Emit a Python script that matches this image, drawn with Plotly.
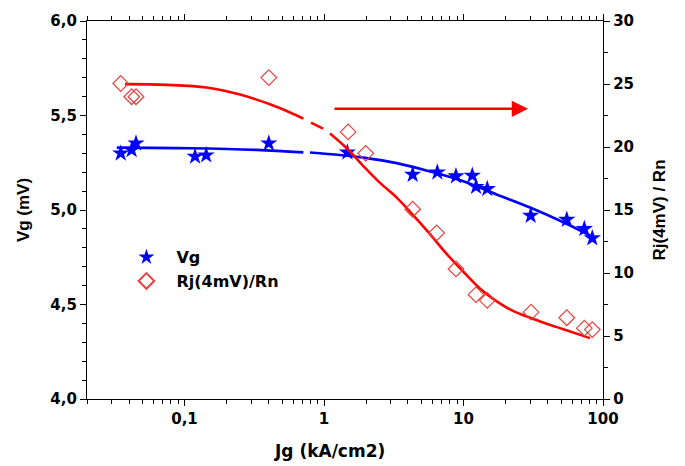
import math
import plotly.graph_objects as go

# Measured data
jg_vg = [0.0349, 0.0418, 0.0449, 0.119, 0.143, 0.402, 1.47, 4.32, 6.49, 8.83, 11.56, 12.3, 14.8, 30.3, 55.0, 73.5, 83.8]
vg = [5.300, 5.318, 5.353, 5.283, 5.290, 5.353, 5.305, 5.187, 5.199, 5.179, 5.182, 5.123, 5.112, 4.970, 4.949, 4.900, 4.851]

jg_rj = [0.0349, 0.0418, 0.0449, 0.402, 1.49, 1.99, 4.32, 6.42, 8.83, 12.3, 14.8, 30.5, 55.0, 73.5, 83.8]
rj = [25.04, 23.99, 23.99, 25.51, 21.20, 19.50, 15.06, 13.18, 10.32, 8.28, 7.83, 6.89, 6.45, 5.62, 5.51]

# Fitted curves (None = gap in the drawn line)
fit_vg_x = [0.0327, 0.1095, 0.329, 0.711, None, 0.794, 1.302, 1.913, 3.32, 5.75, 9.97, 17.3, 30.0, 52.0, 80.7]
fit_vg_y = [5.330, 5.327, 5.318, 5.305, None, 5.304, 5.291, 5.277, 5.248, 5.204, 5.152, 5.082, 5.013, 4.935, 4.865]

fit_rj_x = [0.0374, 0.0745, 0.144, 0.250, 0.410, 0.571, 0.711, None, 0.807, 0.984, None, 1.104, 1.455, 1.913, 2.52, 3.32, 4.37, 5.75, 7.57, 9.97, 13.1, 17.3, 22.8, 30.0, 39.5, 52.0, 80.7]
fit_rj_y = [24.99, 24.93, 24.72, 24.16, 23.39, 22.74, 22.25, None, 21.93, 21.46, None, 21.07, 19.90, 18.49, 17.15, 15.98, 14.57, 13.08, 11.51, 10.10, 8.77, 7.75, 6.97, 6.45, 5.98, 5.54, 4.83]

# Arrow (pointing to the right-hand axis)
arrow_x = [1.16, 29.0]
arrow_y = 23.03

# Tick labels
x_tickvals = [0.1, 1, 10, 100]
x_ticktext = ["0,1", "1", "10", "100"]
x_minor = [v * m for v in [0.01, 0.1, 1, 10] for m in range(2, 10)]
y_tickvals = [4.0, 4.5, 5.0, 5.5, 6.0]
y_ticktext = ["4,0", "4,5", "5,0", "5,5", "6,0"]
y2_tickvals = [0, 5, 10, 15, 20, 25, 30]

FONT_H = "DejaVu Sans, sans-serif"
FONT_V = "Liberation Sans, Arial, sans-serif"
BLUE = "#0000ff"
RED = "#ff0000"

fig = go.Figure()
fig.add_trace(go.Scatter(x=fit_vg_x, y=fit_vg_y, mode="lines", line=dict(color=BLUE, width=2.6, shape="spline"),
                         connectgaps=False, showlegend=False, hoverinfo="skip"))
fig.add_trace(go.Scatter(x=fit_rj_x, y=fit_rj_y, mode="lines", line=dict(color=RED, width=2.6, shape="spline"),
                         connectgaps=False, showlegend=False, hoverinfo="skip", yaxis="y2"))
fig.add_trace(go.Scatter(x=jg_vg, y=vg, mode="markers", name="Vg",
                         marker=dict(symbol="star", size=13, color=BLUE, line=dict(width=0))))
fig.add_trace(go.Scatter(x=jg_rj, y=rj, mode="markers", name="Rj(4mV)/Rn", yaxis="y2",
                         marker=dict(symbol="diamond-open", size=12, color="#e8413f", line=dict(width=1.2))))

fig.add_annotation(x=math.log10(arrow_x[1]), y=arrow_y, ax=math.log10(arrow_x[0]), ay=arrow_y,
                   xref="x", yref="y2", axref="x", ayref="y2",
                   showarrow=True, arrowhead=2, arrowsize=1.3, arrowwidth=2.5, arrowcolor=RED, text="")

fig.add_annotation(text="Jg (kA/cm2)", xref="paper", yref="paper", x=0.469, y=-0.138,
                   xanchor="center", yanchor="middle", showarrow=False,
                   font=dict(family=FONT_H, size=17, weight="bold", color="black"))

axis_common = dict(showline=True, linecolor="black", linewidth=1.3, ticks="outside", ticklen=6,
                   tickcolor="black", tickwidth=1.3, showgrid=False, zeroline=False,
                   tickfont=dict(family=FONT_H, size=15, color="black", weight="bold"))
title_font = dict(family=FONT_V, size=17, weight="bold", color="black")

fig.update_layout(
    width=685, height=466,
    margin=dict(l=87, r=82, t=16, b=67),
    paper_bgcolor="white", plot_bgcolor="white",
    font=dict(family=FONT_H, color="black"),
    xaxis=dict(type="log", range=[-1.699, 2], tickvals=x_tickvals, ticktext=x_ticktext, mirror="ticks",
               minor=dict(tickvals=x_minor, ticks="outside", ticklen=4, tickcolor="black", tickwidth=1.1),
               **axis_common),
    yaxis=dict(range=[4, 6], tickvals=y_tickvals, ticktext=y_ticktext,
               title=dict(text="Vg (mV)", font=title_font, standoff=16),
               minor=dict(dtick=0.1, ticks="outside", ticklen=4, tickcolor="black", tickwidth=1.1),
               **axis_common),
    yaxis2=dict(range=[0, 30], tickvals=y2_tickvals, overlaying="y", side="right",
                title=dict(text="Rj(4mV) / Rn", font=title_font, standoff=20),
                minor=dict(dtick=2.5, ticks="outside", ticklen=4, tickcolor="black", tickwidth=1.1),
                **axis_common),
    legend=dict(x=0.057, y=0.42, xanchor="left", yanchor="top", bgcolor="rgba(0,0,0,0)",
                font=dict(family=FONT_H, size=16, weight="bold"), itemsizing="constant",
                itemwidth=50, tracegroupgap=2),
    showlegend=True,
)

fig.write_html("out.html")
